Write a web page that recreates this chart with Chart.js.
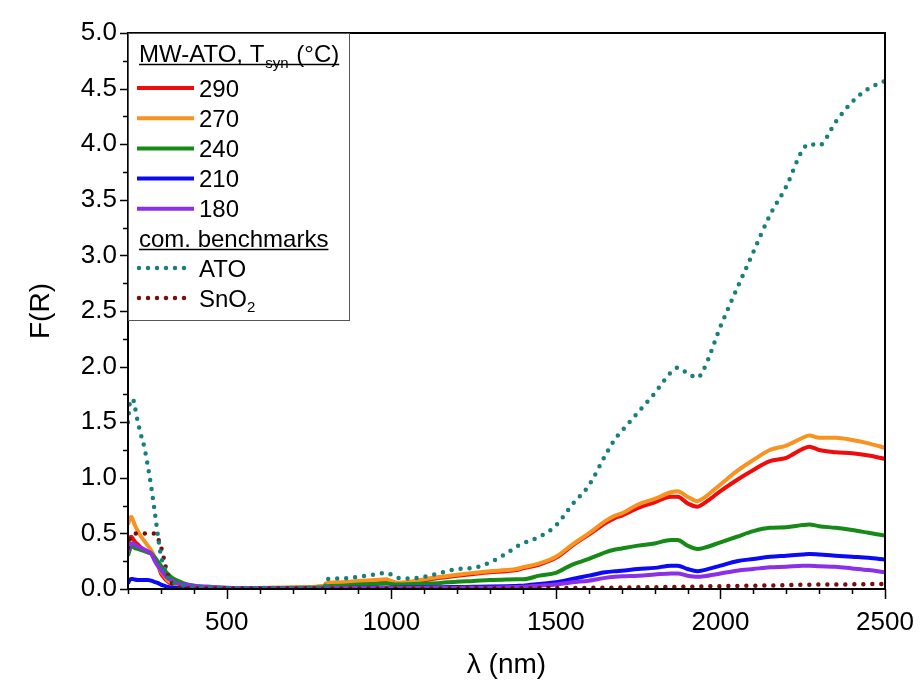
<!DOCTYPE html>
<html>
<head>
<meta charset="utf-8">
<script src="https://cdn.jsdelivr.net/npm/chart.js@4.4.1/dist/chart.umd.min.js"></script>
<style>
  html, body { margin: 0; padding: 0; background: #ffffff; }
  canvas { display: block; }
</style>
</head>
<body>
<canvas id="chart" width="922" height="688"></canvas>
<script>
// Wavelength grid (nm) shared by all spectra
const wavelengths = [200, 205, 210, 215, 220, 230, 240, 250, 260, 270, 280, 290, 300, 310, 320, 330, 340, 350, 370, 400,
  450, 500, 600, 700, 799, 800, 850, 900, 950, 985, 1000, 1020, 1050, 1100, 1150, 1200, 1250, 1300, 1350, 1380,
  1400, 1450, 1500, 1550, 1600, 1650, 1680, 1700, 1750, 1800, 1850, 1870, 1900, 1930, 1950, 2000, 2050, 2100, 2150,
  2200, 2250, 2270, 2300, 2350, 2400, 2450, 2500];

// Kubelka-Munk function F(R) of MW-ATO samples, by synthesis temperature
const fr290 = [0.40, 0.46, 0.47, 0.45, 0.43, 0.40, 0.37, 0.35, 0.33, 0.32, 0.28, 0.23, 0.14, 0.10, 0.07, 0.05, 0.04, 0.03, 0.022, 0.015,
  0.010, 0.008, 0.008, 0.012, 0.025, 0.040, 0.050, 0.062, 0.070, 0.077, 0.065, 0.050, 0.055, 0.078, 0.100, 0.118, 0.135, 0.150, 0.160, 0.170,
  0.185, 0.22, 0.28, 0.39, 0.49, 0.59, 0.64, 0.66, 0.73, 0.78, 0.83, 0.83, 0.77, 0.74, 0.77, 0.88, 0.98, 1.07, 1.15,
  1.18, 1.26, 1.28, 1.25, 1.23, 1.22, 1.20, 1.17];
const fr270 = [0.58, 0.63, 0.65, 0.62, 0.58, 0.52, 0.47, 0.43, 0.39, 0.35, 0.29, 0.22, 0.16, 0.12, 0.08, 0.06, 0.045, 0.035, 0.025, 0.018,
  0.012, 0.010, 0.010, 0.015, 0.030, 0.050, 0.060, 0.072, 0.080, 0.087, 0.072, 0.057, 0.063, 0.088, 0.110, 0.128, 0.145, 0.160, 0.170, 0.180,
  0.195, 0.23, 0.29, 0.40, 0.50, 0.61, 0.66, 0.68, 0.76, 0.81, 0.87, 0.88, 0.83, 0.79, 0.82, 0.94, 1.06, 1.16, 1.25,
  1.29, 1.36, 1.38, 1.36, 1.36, 1.34, 1.31, 1.27];
const fr240 = [0.30, 0.35, 0.38, 0.38, 0.37, 0.36, 0.35, 0.34, 0.33, 0.32, 0.29, 0.25, 0.21, 0.17, 0.14, 0.11, 0.09, 0.075, 0.05, 0.03,
  0.015, 0.010, 0.008, 0.010, 0.015, 0.022, 0.030, 0.040, 0.045, 0.050, 0.045, 0.040, 0.042, 0.048, 0.055, 0.065, 0.072, 0.080, 0.085, 0.087,
  0.087, 0.12, 0.145, 0.22, 0.27, 0.33, 0.355, 0.365, 0.39, 0.41, 0.44, 0.44, 0.39, 0.36, 0.37, 0.42, 0.47, 0.52, 0.55,
  0.555, 0.575, 0.58, 0.565, 0.55, 0.53, 0.505, 0.48];
const fr210 = [0.05, 0.08, 0.09, 0.09, 0.085, 0.08, 0.08, 0.08, 0.08, 0.075, 0.065, 0.055, 0.04, 0.03, 0.02, 0.012, 0.010, 0.008, 0.006, 0.005,
  0.005, 0.005, 0.006, 0.007, 0.009, 0.010, 0.010, 0.011, 0.012, 0.012, 0.012, 0.012, 0.013, 0.015, 0.016, 0.018, 0.020, 0.022, 0.025, 0.028,
  0.030, 0.045, 0.06, 0.09, 0.12, 0.15, 0.16, 0.165, 0.18, 0.19, 0.21, 0.21, 0.18, 0.16, 0.17, 0.21, 0.25, 0.27, 0.29,
  0.30, 0.31, 0.315, 0.31, 0.30, 0.29, 0.28, 0.265];
const fr180 = [0.33, 0.38, 0.41, 0.41, 0.40, 0.38, 0.37, 0.355, 0.34, 0.32, 0.26, 0.21, 0.17, 0.13, 0.10, 0.08, 0.065, 0.05, 0.04, 0.03,
  0.02, 0.012, 0.008, 0.008, 0.008, 0.008, 0.008, 0.008, 0.008, 0.008, 0.008, 0.008, 0.008, 0.009, 0.009, 0.010, 0.011, 0.012, 0.015, 0.018,
  0.020, 0.03, 0.04, 0.06, 0.075, 0.10, 0.11, 0.115, 0.12, 0.13, 0.14, 0.14, 0.12, 0.11, 0.115, 0.14, 0.165, 0.18, 0.195,
  0.20, 0.21, 0.21, 0.205, 0.20, 0.185, 0.17, 0.15];

// Commercial benchmarks
const frATO = [1.50, 1.66, 1.70, 1.71, 1.65, 1.50, 1.38, 1.27, 1.11, 0.93, 0.72, 0.50, 0.30, 0.20, 0.11, 0.075, 0.055, 0.04, 0.03, 0.02,
  0.015, 0.010, 0.010, 0.010, 0.012, 0.085, 0.095, 0.11, 0.13, 0.147, 0.13, 0.10, 0.095, 0.11, 0.145, 0.18, 0.19, 0.24, 0.32, 0.38,
  0.41, 0.47, 0.57, 0.76, 0.93, 1.20, 1.35, 1.42, 1.59, 1.76, 1.95, 1.99, 1.94, 1.90, 1.98, 2.36, 2.70, 3.03, 3.36,
  3.62, 3.95, 4.00, 3.99, 4.20, 4.38, 4.50, 4.57];
const frSnO2 = [0.37, 0.45, 0.48, 0.49, 0.50, 0.50, 0.50, 0.50, 0.50, 0.50, 0.50, 0.46, 0.38, 0.26, 0.13, 0.066, 0.03, 0.015, 0.008, 0.005,
  0.005, 0.005, 0.005, 0.005, 0.005, 0.005, 0.005, 0.005, 0.005, 0.005, 0.005, 0.005, 0.005, 0.005, 0.005, 0.005, 0.006, 0.006, 0.007, 0.007,
  0.007, 0.008, 0.008, 0.009, 0.010, 0.012, 0.012, 0.013, 0.015, 0.016, 0.018, 0.019, 0.020, 0.022, 0.023, 0.025, 0.028, 0.030, 0.032,
  0.035, 0.038, 0.039, 0.040, 0.041, 0.042, 0.044, 0.045];

// Axis ticks
const xTickValues = [500, 1000, 1500, 2000, 2500];
const yTickValues = [0, 0.5, 1.0, 1.5, 2.0, 2.5, 3.0, 3.5, 4.0, 4.5, 5.0];

// Legend texts
const legendTitle = { main: 'MW-ATO, T', sub: 'syn', tail: ' (°C)' };
const benchmarkHeading = 'com. benchmarks';

const FONT = "'Liberation Sans', Arial, Helvetica, sans-serif";
const DOTS = [0, 9];

function toPoints(values) {
  return wavelengths.map((w, i) => ({ x: w, y: values[i] }));
}

function solidSeries(label, values, color, order) {
  return {
    label, data: toPoints(values), borderColor: color, backgroundColor: color,
    borderWidth: 4, pointRadius: 0, cubicInterpolationMode: 'monotone', order,
    group: 'sample'
  };
}

function dottedSeries(label, values, color, order, sub) {
  return {
    label, sub, data: toPoints(values), borderColor: color, backgroundColor: color,
    borderWidth: 4.5, borderDash: DOTS, borderCapStyle: 'round', pointRadius: 0,
    cubicInterpolationMode: 'monotone', order, group: 'benchmark'
  };
}

const datasets = [
  solidSeries('290', fr290, '#f00c0c', 5),
  solidSeries('270', fr270, '#f7931e', 4),
  solidSeries('240', fr240, '#168a16', 3),
  solidSeries('210', fr210, '#0a0af5', 2),
  solidSeries('180', fr180, '#8a30e6', 1),
  dottedSeries('ATO', frATO, '#17807d', 0),
  dottedSeries('SnO', frSnO2, '#7c0d0d', 0, '2')
];

// Frame, outward tick marks (major + minor) and the boxed legend
const framePlugin = {
  id: 'frameAndLegend',
  afterDraw(chart) {
    const ctx = chart.ctx;
    const { left, right, top, bottom } = chart.chartArea;
    const xs = chart.scales.x, ys = chart.scales.y;
    ctx.save();
    ctx.strokeStyle = '#000';
    ctx.lineWidth = 1.5;
    ctx.beginPath();
    for (let v = 200; v <= 2500; v += 100) {
      const px = Math.round(xs.getPixelForValue(v)) + 0.5;
      const len = xTickValues.includes(v) ? 10 : 5;
      ctx.moveTo(px, bottom);
      ctx.lineTo(px, bottom + len);
    }
    for (let i = 0; i <= 20; i++) {
      const v = i * 0.25;
      const py = Math.round(ys.getPixelForValue(v)) + 0.5;
      const len = (i % 2 === 0) ? 8 : 5;
      ctx.moveTo(left, py);
      ctx.lineTo(left - len, py);
    }
    ctx.stroke();

    // plot frame
    ctx.lineWidth = 2;
    ctx.strokeRect(left, top, right - left, bottom - top);

    // legend box
    const bx = left, by = top, bw = 221, bh = 287;
    ctx.fillStyle = '#fff';
    ctx.fillRect(bx + 1, by + 1, bw - 1, bh - 1);
    ctx.lineWidth = 1;
    ctx.strokeStyle = '#555';
    ctx.strokeRect(bx + 0.5, by + 0.5, bw, bh);

    ctx.fillStyle = '#000';
    ctx.strokeStyle = '#000';
    ctx.textBaseline = 'alphabetic';
    ctx.textAlign = 'left';

    // title: MW-ATO, T_syn (°C), underlined
    const tx = left + 11;
    const tBase = by + 29;
    ctx.font = '24px ' + FONT;
    ctx.fillText(legendTitle.main, tx, tBase);
    let cx = tx + ctx.measureText(legendTitle.main).width + 1;
    ctx.font = '15px ' + FONT;
    ctx.fillText(legendTitle.sub, cx, tBase + 6);
    cx += ctx.measureText(legendTitle.sub).width + 1;
    ctx.font = '24px ' + FONT;
    ctx.fillText(legendTitle.tail, cx, tBase);
    cx += ctx.measureText(legendTitle.tail).width;
    ctx.lineWidth = 1.5;
    ctx.beginPath();
    ctx.moveTo(tx, tBase + 2.5);
    ctx.lineTo(cx, tBase + 2.5);
    ctx.stroke();

    const sampleX0 = left + 9, sampleX1 = left + 66, textX = left + 71;
    const drawEntry = (ds, y) => {
      ctx.save();
      ctx.strokeStyle = ds.borderColor;
      ctx.lineWidth = ds.borderWidth;
      ctx.lineCap = ds.borderDash ? 'round' : 'butt';
      ctx.setLineDash(ds.borderDash || []);
      ctx.beginPath();
      ctx.moveTo(sampleX0 + (ds.borderDash ? 2 : 0), y);
      ctx.lineTo(sampleX1 - (ds.borderDash ? 5 : 0), y);
      ctx.stroke();
      ctx.restore();
      ctx.font = '24px ' + FONT;
      ctx.fillStyle = '#000';
      ctx.textBaseline = 'alphabetic';
      ctx.fillText(ds.label, textX, y + 8.5);
      if (ds.sub) {
        const w = ctx.measureText(ds.label).width;
        ctx.font = '15px ' + FONT;
        ctx.fillText(ds.sub, textX + w, y + 14);
      }
    };

    const sampleSets = chart.data.datasets.filter(d => d.group === 'sample');
    sampleSets.forEach((ds, i) => drawEntry(ds, by + 55 + i * 30.2));

    // benchmark heading
    const hBase = by + 214;
    ctx.font = '24px ' + FONT;
    ctx.fillStyle = '#000';
    ctx.fillText(benchmarkHeading, tx, hBase);
    const hw = ctx.measureText(benchmarkHeading).width;
    ctx.lineWidth = 1.5;
    ctx.beginPath();
    ctx.moveTo(tx, hBase + 2.5);
    ctx.lineTo(tx + hw, hBase + 2.5);
    ctx.stroke();

    const benchSets = chart.data.datasets.filter(d => d.group === 'benchmark');
    benchSets.forEach((ds, i) => drawEntry(ds, by + 235 + i * 30));
    ctx.restore();
  }
};

new Chart(document.getElementById('chart'), {
  type: 'line',
  data: { datasets },
  options: {
    responsive: false,
    animation: false,
    devicePixelRatio: 1,
    layout: { padding: { top: 33, right: 37, left: 0, bottom: 0 } },
    plugins: { legend: { display: false }, tooltip: { enabled: false } },
    scales: {
      x: {
        type: 'linear', min: 200, max: 2500,
        afterBuildTicks: s => { s.ticks = xTickValues.map(v => ({ value: v })); },
        afterFit: s => { s.height = 99; },
        grid: { display: false, drawTicks: true, tickLength: 10 },
        border: { display: false },
        ticks: {
          color: '#000', padding: 8, maxRotation: 0, autoSkip: false,
          font: { family: FONT, size: 26 },
          callback: v => String(v)
        },
        title: {
          display: true, text: 'λ (nm)', color: '#000',
          font: { family: FONT, size: 28 }, padding: { top: 0, bottom: 6 }
        }
      },
      y: {
        type: 'linear', min: 0, max: 5,
        afterBuildTicks: s => { s.ticks = yTickValues.map(v => ({ value: v })); },
        afterFit: s => { s.width = 128; },
        grid: { display: false, drawTicks: true, tickLength: 8 },
        border: { display: false },
        ticks: {
          color: '#000', padding: 3, autoSkip: false,
          font: { family: FONT, size: 26 },
          callback: v => Number(v).toFixed(1)
        },
        title: {
          display: true, text: 'F(R)', color: '#000',
          font: { family: FONT, size: 28 }, padding: { top: 24, bottom: 0 }
        }
      }
    }
  },
  plugins: [framePlugin]
});
</script>
</body>
</html>
